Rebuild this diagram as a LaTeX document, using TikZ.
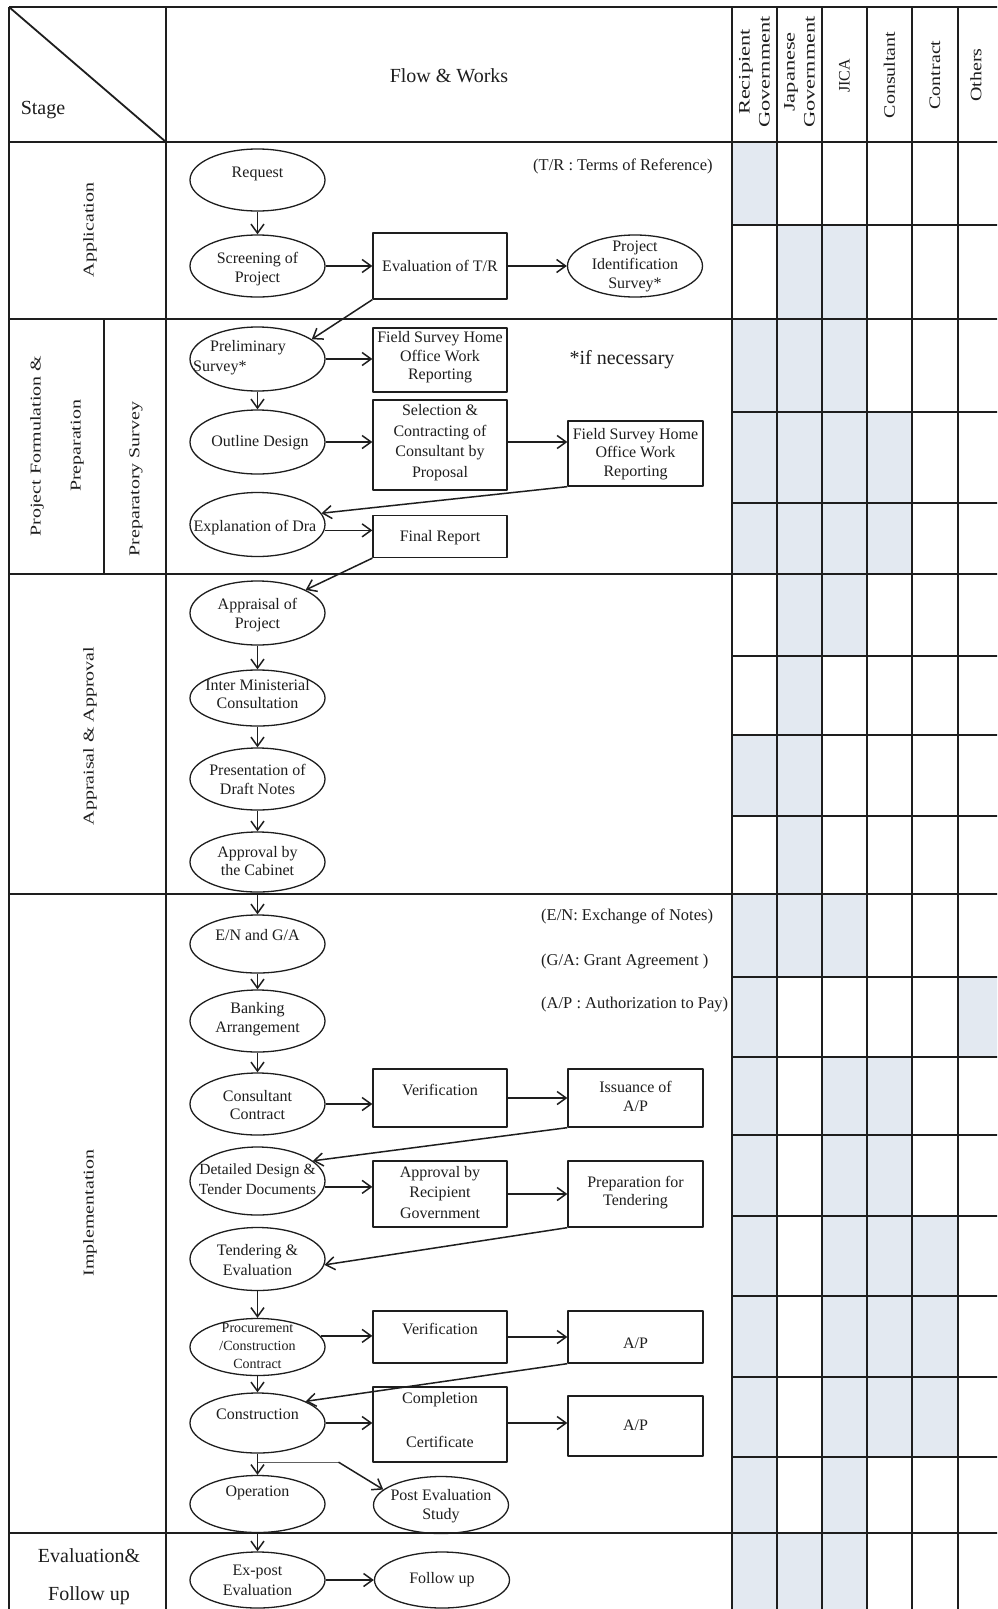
\documentclass[tikz,border=0pt]{standalone}
\usepackage{fontspec}
\setmainfont{Liberation Serif}
\usepackage{graphicx}
\usetikzlibrary{arrows.meta,shapes.geometric,calc}
\newcommand\fA{\fontsize{16}{18.5}\selectfont}
\newcommand\fN{\fontsize{16.5}{19}\selectfont}
\newcommand\fB{\fontsize{20}{24}\selectfont}
\newcommand\fC{\fontsize{15}{18}\selectfont}
\newcommand\lng[2][1.33]{\scalebox{#1}[1]{#2}}
\definecolor{cellshade}{RGB}{227,233,241}
\definecolor{ink}{RGB}{30,30,30}
\tikzset{
 ell/.style={ellipse, draw=ink, line width=1.3pt, minimum width=135pt, minimum height=62pt, inner sep=0pt},
 bx/.style={rectangle, draw=ink, line width=1.3pt, inner sep=0pt, minimum width=134pt},
 tx/.style={font=\fA, text=ink, align=center, inner sep=0pt},
 nt/.style={font=\fN, text=ink, anchor=west, inner sep=0pt},
 arr/.style={draw=ink, line width=1.5pt, -{Straight Barb[length=9pt,width=13pt,line width=1.5pt]}},
 gl/.style={draw=ink, line width=1.8pt},
 stg/.style={font=\fC, text=ink, align=center, inner sep=0pt, rotate=90},
 hd/.style={font=\fontsize{16}{20}\selectfont, text=ink, align=center, inner sep=0pt, rotate=90},
}
\begin{document}
\begin{tikzpicture}[x=1pt,y=-1pt,line join=round]
\useasboundingbox (0,0) rectangle (997,1609);
\clip (0,0) rectangle (997,1609);
\fill[white] (0,0) rectangle (997,1609);
% ---- shading of role cells
\foreach \ya/\yb/\cols in {
 142/225/{732/777},
 225/319/{777/822,822/867},
 319/412/{732/777,777/822,822/867},
 412/503/{732/777,777/822,822/867,867/912},
 503/574/{732/777,777/822,822/867,867/912},
 574/656/{777/822,822/867},
 656/735/{777/822},
 735/816/{732/777,777/822},
 816/895/{777/822},
 895/977/{732/777,777/822,822/867},
 977/1057/{732/777,958/1000},
 1057/1135/{732/777,822/867,867/912},
 1135/1216/{732/777,822/867,867/912},
 1216/1296/{732/777,822/867,867/912,912/958},
 1296/1377/{732/777,822/867,867/912,912/958},
 1377/1457/{732/777,822/867,867/912,912/958},
 1457/1533/{732/777,822/867},
 1533/1612/{732/777,777/822,822/867}}{
  \foreach \xa/\xb in \cols { \fill[cellshade] (\xa,\ya) rectangle (\xb,\yb); }
}
% ---- grid
\foreach \yy in {7,142,319,574,894,1533} { \draw[gl] (9,\yy) -- (1000,\yy); }
\foreach \yy in {225,412,503,656,735,816,977,1057,1135,1216,1296,1377,1457} { \draw[gl] (732,\yy) -- (1000,\yy); }
\foreach \xx in {9,166,732,777,822,867,912,958} { \draw[gl] (\xx,7) -- (\xx,1612); }
\draw[gl] (104,319) -- (104,574);
\draw[gl] (9,7) -- (166,142);
% ---- header texts
\node[font=\fB, text=ink, inner sep=0pt] (hStage) at (43,110) {Stage};
\node[font=\fB, text=ink, inner sep=0pt] (hFlow) at (449,76) {Flow \& Works};
\node[hd] (hR) at (754.5,72) {\lng[1.4]{Recipient}\\\lng[1.4]{Government}};
\node[hd] (hJg) at (799.5,72) {\lng[1.4]{Japanese}\\\lng[1.4]{Government}};
\node[hd] (hJ) at (844.5,76) {JICA};
\node[hd] (hC) at (889.5,75) {\lng[1.25]{Consultant}};
\node[hd] (hCt) at (935,75) {\lng[1.25]{Contract}};
\node[hd] (hO) at (976,75) {\lng[1.25]{Others}};
% ---- stage labels
\node[stg] (stApp) at (90,230) {\lng{Application}};
\node[stg, font=\fontsize{15}{40}\selectfont] (stPF) at (57,446) {\lng{Project Formulation \&}\\\lng{Preparation}};
\node[stg] (stPS) at (136,479) {\lng{Preparatory Survey}};
\node[stg] (stAA) at (90,736) {\lng{Appraisal \& Approval}};
\node[stg] (stImp) at (90,1213) {\lng{Implementation}};
\node[font=\fontsize{20}{24}\selectfont, text=ink, inner sep=0pt] (stEv) at (89,1556) {Evaluation\&};
\node[font=\fontsize{20}{24}\selectfont, text=ink, inner sep=0pt] (stFu) at (89,1596) {Follow up};
% ---- main column ellipses
\node[ell] (req) at (257.5,180) {};
\node[ell] (scr) at (257.5,266) {};
\node[ell, minimum height=64pt] (pre) at (257.5,359) {};
\node[ell, minimum height=64pt] (out) at (257.5,442) {};
\node[ell, minimum height=64pt] (expl) at (257.5,524.5) {};
\node[ell, minimum height=64pt] (app) at (257.5,613) {};
\node[ell, minimum height=56pt] (inter) at (257.5,698) {};
\node[ell] (pres) at (257.5,779) {};
\node[ell, minimum height=60pt] (cab) at (257.5,862) {};
\node[ell, minimum height=58pt] (en) at (257.5,944) {};
\node[ell] (bank) at (257.5,1021) {};
\node[ell] (cons) at (257.5,1104) {};
\node[ell, minimum height=68pt] (dd) at (257.5,1181) {};
\node[ell, minimum height=63pt] (tend) at (257.5,1259) {};
\node[ell, minimum height=57pt] (proc) at (257.5,1347) {};
\node[ell, minimum height=60pt] (constr) at (257.5,1423) {};
\node[ell, minimum height=57pt] (oper) at (257.5,1504) {};
\node[ell, minimum height=56pt] (expost) at (257.5,1580) {};
% ---- side shapes
\node[bx, minimum height=66pt] (evtr) at (440,266) {};
\node[ell] (pis) at (635,266) {};
\node[bx, minimum height=64pt] (fs1) at (440,360) {};
\node[bx, minimum height=90pt] (sel) at (440,445) {};
\node[bx, minimum width=135pt, minimum height=65pt] (fs2) at (635.5,453.5) {};
\node[bx, minimum height=42pt] (fin) at (440,536.5) {};
\node[bx, minimum height=58pt] (ver1) at (440,1098) {};
\node[bx, minimum width=135pt, minimum height=58pt] (iss) at (635.5,1098) {};
\node[bx, minimum height=66pt] (apr) at (440,1194) {};
\node[bx, minimum width=135pt, minimum height=66pt] (prep) at (635.5,1194) {};
\node[bx, minimum height=52pt] (ver2) at (440,1337) {};
\node[bx, minimum width=135pt, minimum height=52pt] (ap2) at (635.5,1337) {};
\node[bx, minimum height=75pt] (comp) at (440,1424.5) {};
\node[bx, minimum width=135pt, minimum height=60pt] (ap3) at (635.5,1426) {};
\node[ell, minimum height=57pt] (post) at (441,1505) {};
\node[ell, minimum height=56pt] (fol) at (442,1580) {};
% ---- texts in shapes
\node[tx] (treq) at (257.5,174) {Request};
\node[tx] (tscr) at (257.5,269) {Screening of\\Project};
\node[tx] (tpre1) at (248,348) {Preliminary};
\node[tx, anchor=west] (tpre2) at (193,368) {Survey*};
\node[tx] (tout) at (260,443) {Outline Design};
\node[tx] (texpl) at (255,528) {Explanation of Dra};
\node[tx] (tapp) at (257.5,615) {Appraisal of\\Project};
\node[tx] (tinter) at (257.5,694) {Inter Ministerial\\Consultation};
\node[tx] (tpres) at (257.5,779.5) {Presentation of\\Draft Notes};
\node[tx] (tcab) at (257.5,861) {Approval by\\the Cabinet};
\node[tx] (ten) at (257.5,935) {E/N and G/A};
\node[tx] (tbank) at (257.5,1019) {Banking\\Arrangement};
\node[tx] (tcons) at (257.5,1105) {Consultant\\Contract};
\node[tx, font=\fontsize{15.5}{20}\selectfont] (tdd) at (257.5,1179) {Detailed Design \&\\Tender Documents};
\node[tx, font=\fontsize{16}{20.5}\selectfont] (ttend) at (257.5,1260) {Tendering \&\\Evaluation};
\node[tx, font=\fontsize{14}{18}\selectfont] (tproc) at (257.5,1345.5) {Procurement\\/Construction\\Contract};
\node[tx] (tconstr) at (257.5,1414) {Construction};
\node[tx] (toper) at (257.5,1493) {Operation};
\node[tx, font=\fontsize{16}{20}\selectfont] (texpost) at (257.5,1580) {Ex-post\\Evaluation};
\node[tx] (tevtr) at (440,266) {Evaluation of T/R};
\node[tx] (tpis) at (635,266) {Project\\Identification\\Survey*};
\node[tx] (tfs1) at (440,357.5) {Field Survey Home\\Office Work\\Reporting};
\node[tx, font=\fontsize{16}{20.5}\selectfont] (tsel) at (440,442.5) {Selection \&\\Contracting of\\Consultant by\\Proposal};
\node[tx] (tfs2) at (635.5,454) {Field Survey Home\\Office Work\\Reporting};
\node[tx] (tfin) at (440,538) {Final Report};
\node[tx] (tver1) at (440,1090) {Verification};
\node[tx] (tiss) at (635.5,1096.5) {Issuance of\\A/P};
\node[tx, font=\fontsize{16}{20.5}\selectfont] (tapr) at (440,1192.5) {Approval by\\Recipient\\Government};
\node[tx] (tprep) at (635.5,1192.5) {Preparation for\\Tendering};
\node[tx] (tver2) at (440,1329) {Verification};
\node[tx] (tap2) at (635.5,1343) {A/P};
\node[tx] (tcomp1) at (440,1400) {Completion};
\node[tx] (tcomp2) at (440,1442) {Certificate};
\node[tx] (tap3) at (635.5,1425) {A/P};
\node[tx] (tpost) at (441,1506) {Post Evaluation\\Study};
\node[tx] (tfol) at (442,1580) {Follow up};
% ---- notes
\node[nt] (nTR) at (533,166) {(T/R : Terms of Reference)};
\node[font=\fB, text=ink, inner sep=0pt] (nIf) at (622,360) {*if necessary};
\node[nt] (nEN) at (541,916) {(E/N: Exchange of Notes)};
\node[nt] (nGA) at (541,962) {(G/A: Grant Agreement )};
\node[nt] (nAP) at (541,1005) {(A/P : Authorization to Pay)};
% ---- connectors
\draw[arr] (req.south) -- (scr.north);
\draw[arr] (scr.east) -- (evtr.west);
\draw[arr] (evtr.east) -- (pis.west);
\draw[arr] (evtr.south west) -- (pre.20);
\draw[arr] (pre.east) -- (pre.east -| fs1.west);
\draw[arr] (pre.south) -- (out.north);
\draw[arr] (out.east) -- (out.east -| sel.west);
\draw[arr] (sel.east |- out.east) -- (out.east -| fs2.west);
\draw[arr] (fs2.south west) -- (expl.10);
\draw[arr] (expl.-5) -- (expl.-5 -| fin.west);
\draw[arr] (fin.south west) -- (app.north east);
\draw[arr] (app.south) -- (inter.north);
\draw[arr] (inter.south) -- (pres.north);
\draw[arr] (pres.south) -- (cab.north);
\draw[arr] (cab.south) -- (en.north);
\draw[arr] (en.south) -- (bank.north);
\draw[arr] (bank.south) -- (cons.north);
\draw[arr] (cons.east) -- (cons.east -| ver1.west);
\draw[arr] (ver1.east) -- (iss.west);
\draw[arr] (iss.south west) -- (dd.20);
\draw[arr] (dd.-5) -- (dd.-5 -| apr.west);
\draw[arr] (apr.east) -- (prep.west);
\draw[arr] (prep.south west) -- (tend.-5);
\draw[arr] (tend.south) -- (proc.north);
\draw[arr] (proc.10) -- (proc.10 -| ver2.west);
\draw[arr] (ver2.east) -- (ap2.west);
\draw[arr] (ap2.south west) -- (constr.north east);
\draw[arr] (proc.south) -- (constr.north);
\draw[arr] (constr.east) -- (constr.east -| comp.west);
\draw[arr] (comp.east |- constr.east) -- (constr.east -| ap3.west);
\draw[arr] (constr.south) -- (oper.north);
\coordinate (br) at ($(constr.south)!0.4!(oper.north)$);
\coordinate (brk) at ($(br)+(81,0)$);
\draw[ink!70, line width=0.8pt] (br) -- (brk);
\draw[arr] (brk) -- (post.165);
\draw[arr] (oper.south) -- (expost.north);
\draw[arr] (expost.east) -- (fol.west);
\end{tikzpicture}
\end{document}
